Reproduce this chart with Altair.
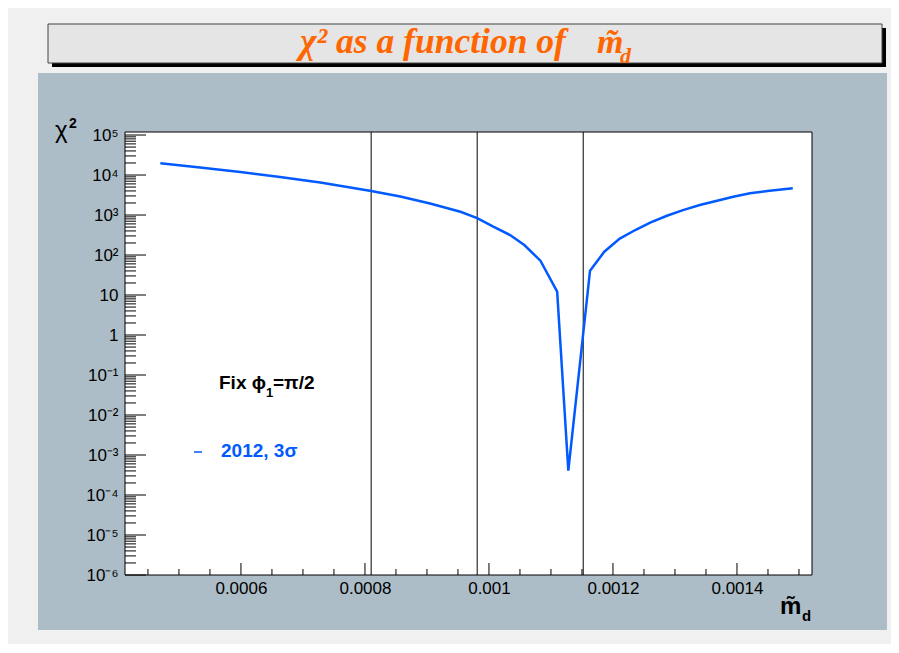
import json
import altair as alt
import pandas as pd

# ---------------- data ----------------
md = [0.000470, 0.000534, 0.000599, 0.000663, 0.000728, 0.000810, 0.000857,
      0.000905, 0.000954, 0.000981, 0.001007, 0.001034, 0.001057, 0.001083,
      0.001110, 0.001128, 0.001163, 0.001186, 0.001211, 0.001236, 0.001260,
      0.001287, 0.001313, 0.001340, 0.001368, 0.001394, 0.001421, 0.001449,
      0.001490]
chi2 = [1.96e4, 1.54e4, 1.19e4, 8.9e3, 6.5e3, 3.98e3, 2.9e3,
        1.94e3, 1.21e3, 841, 510, 316, 178, 72,
        12.1, 4.05e-4, 40.5, 121, 258, 422, 642,
        960, 1.33e3, 1.78e3, 2.28e3, 2.87e3, 3.49e3, 3.98e3,
        4.65e3]
vlines = [0.000810, 0.000981, 0.001152]
x_major = [0.0006, 0.0008, 0.0010, 0.0012, 0.0014]
x_minor = [0.00045, 0.00050, 0.00055, 0.00065, 0.00070, 0.00075, 0.00085,
           0.00090, 0.00095, 0.00105, 0.00110, 0.00115, 0.00125, 0.00130,
           0.00135, 0.00145, 0.00150]
y_decades = [1e-6, 1e-5, 1e-4, 1e-3, 1e-2, 1e-1, 1, 10, 1e2, 1e3, 1e4, 1e5]
y_labels = ["10⁻⁶", "10⁻⁵", "10⁻⁴", "10⁻³", "10⁻²", "10⁻¹", "1", "10",
            "10²", "10³", "10⁴", "10⁵"]
title_main = "χ² as a function of"
title_m = "m̃"
title_sub = "d"
legend_a = "Fix ϕ"
legend_b = "1"
legend_c = "=π/2"
series_name = "2012, 3σ"

# ---------------- style ----------------
W, H = 687, 443
X_DOM = [0.000413, 0.001521]
Y_DOM = [1e-6, 1.19e5]
BLUE = "#005aff"
ORANGE = "#ff6600"
PAD = "#adbdc7"
OUTER = "#f0f0f0"
SANS = "Liberation Sans"
SERIF = "Liberation Serif"

xs = alt.Scale(domain=X_DOM, nice=False, zero=False)
ys = alt.Scale(type="log", domain=Y_DOM, nice=False)

label_expr = json.dumps(y_labels, ensure_ascii=False) + "[round(log(datum.value)/LN10)+6]"
xaxis = alt.Axis(values=x_major, format="~g", title=None, ticks=False,
                 domain=False, grid=False, labelPadding=5, zindex=1)
yaxis = alt.Axis(values=y_decades, labelExpr=label_expr, title=None,
                 ticks=False, domain=False, grid=False, labelPadding=7, zindex=1)

y_minor = [d * k for d in y_decades[:-1] for k in range(2, 10)]

one = pd.DataFrame({"a": [0]})
curve = pd.DataFrame({"md": md, "chi2": chi2})

pad = alt.Chart(one).mark_rect(color=PAD).encode(
    x=alt.value(-87), x2=alt.value(762), y=alt.value(-59), y2=alt.value(498))
shadow = alt.Chart(one).mark_rect(color="black").encode(
    x=alt.value(-73), x2=alt.value(761), y=alt.value(-104), y2=alt.value(-65))
tbox = alt.Chart(one).mark_rect(fill="#e5e5e5", stroke="#444444", strokeWidth=1).encode(
    x=alt.value(-77), x2=alt.value(757), y=alt.value(-108), y2=alt.value(-69))
frame = alt.Chart(one).mark_rect(fill="white", stroke="black", strokeWidth=1).encode(
    x=alt.value(0), x2=alt.value(W), y=alt.value(0), y2=alt.value(H))

ymaj = alt.Chart(pd.DataFrame({"v": y_decades})).mark_rule(color="black").encode(
    y=alt.Y("v:Q", scale=ys, axis=yaxis), x=alt.value(0), x2=alt.value(21))
ymin = alt.Chart(pd.DataFrame({"v": y_minor})).transform_filter(
    f"datum.v <= {Y_DOM[1]}").mark_rule(color="black").encode(
    y=alt.Y("v:Q", scale=ys, axis=yaxis), x=alt.value(0), x2=alt.value(11))
xmaj = alt.Chart(pd.DataFrame({"v": x_major})).mark_rule(color="black").encode(
    x=alt.X("v:Q", scale=xs, axis=xaxis), y=alt.value(H), y2=alt.value(H - 12))
xmin = alt.Chart(pd.DataFrame({"v": x_minor})).mark_rule(color="black").encode(
    x=alt.X("v:Q", scale=xs, axis=xaxis), y=alt.value(H), y2=alt.value(H - 6))
vl = alt.Chart(pd.DataFrame({"v": vlines})).mark_rule(color="black", strokeWidth=1).encode(
    x=alt.X("v:Q", scale=xs, axis=xaxis), y=alt.value(0), y2=alt.value(H))

line = alt.Chart(curve).mark_line(color=BLUE, strokeWidth=2.5).encode(
    x=alt.X("md:Q", scale=xs, axis=xaxis),
    y=alt.Y("chi2:Q", scale=ys, axis=yaxis),
)


def txt(s, x, y, size, color="black", font=SANS, weight="normal", style="normal",
        align="left"):
    return alt.Chart(one).mark_text(
        text=s, font=font, fontSize=size, fontWeight=weight, fontStyle=style,
        color=color, align=align, baseline="alphabetic").encode(
        x=alt.value(x), y=alt.value(y))


t1 = txt(title_main, 175, -79, 35.5, ORANGE, SERIF, "bold", "italic")
t_m = txt(title_m, 472, -79, 34, ORANGE, SERIF, "bold", "italic")
t2 = txt(title_sub, 495, -69, 22, ORANGE, SERIF, "bold", "italic")
ytit1 = txt("χ", -70, 6, 24)
ytit2 = txt("2", -56, -4, 14, weight="bold")
xtit1 = txt(title_m, 655, 482, 24, weight="bold")
xtit2 = txt(title_sub, 677, 489, 15, weight="bold")
leg_a = txt(legend_a, 94, 257, 19, weight="bold")
leg_b = txt(legend_b, 141, 265, 13, weight="bold")
leg_c = txt(legend_c, 148, 257, 19, weight="bold")
leg2 = txt(series_name, 96, 325, 19, BLUE, weight="bold")
dash = alt.Chart(one).mark_rule(color=BLUE, strokeWidth=1.5).encode(
    x=alt.value(69), x2=alt.value(77), y=alt.value(320))

chart = alt.layer(
    pad, shadow, tbox, frame, ymaj, ymin, xmaj, xmin, vl, line,
    t1, t_m, t2, ytit1, ytit2, xtit1, xtit2, leg_a, leg_b, leg_c, leg2, dash,
).properties(
    width=W, height=H,
    autosize=alt.AutoSizeParams(type="none"),
    padding={"left": 117, "top": 124, "right": 79, "bottom": 69},
    background=OUTER,
).configure_view(stroke=None).configure_axis(
    labelFont=SANS, labelFontSize=17, labelColor="black")

chart.save("out.html", embed_options={"renderer": "svg", "actions": False})
